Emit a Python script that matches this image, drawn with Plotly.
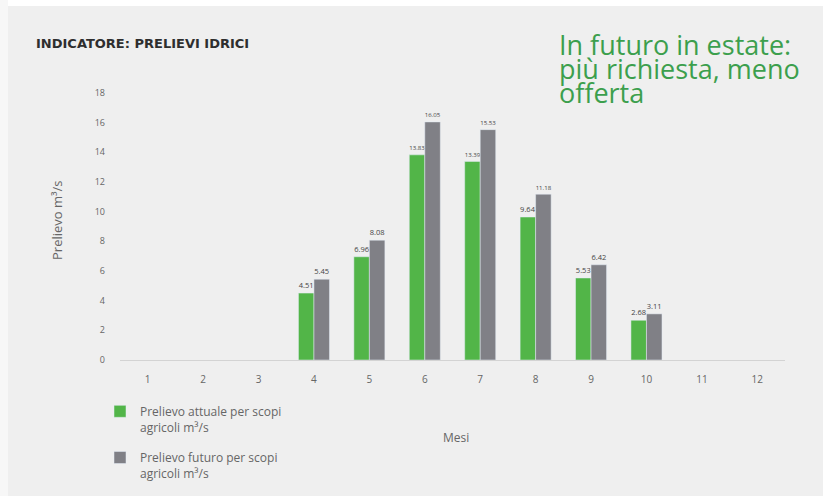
import plotly.graph_objects as go

months = [1, 2, 3, 4, 5, 6, 7, 8, 9, 10, 11, 12]
month_labels = ["1", "2", "3", "4", "5", "6", "7", "8", "9", "10", "11", "12"]
attuale = [None, None, None, 4.51, 6.96, 13.83, 13.39, 9.64, 5.53, 2.68, None, None]
futuro = [None, None, None, 5.45, 8.08, 16.05, 15.53, 11.18, 6.42, 3.11, None, None]
y_ticks = [0, 2, 4, 6, 8, 10, 12, 14, 16, 18]

name_attuale = "Prelievo attuale per scopi<br>agricoli m³/s"
name_futuro = "Prelievo futuro per scopi<br>agricoli m³/s"
headline_lines = ["In futuro in estate:", "più richiesta, meno", "offerta"]

GREEN = "#52b548"
GRAY = "#808086"
BG = "#efefef"
FONT = "Open Sans"

def fmt(v):
    return "" if v is None else f"{v:.2f}"

fig = go.Figure()
fig.add_trace(go.Bar(
    x=month_labels, y=attuale, name=name_attuale, marker_color=GREEN,
    legendgroup="a",
    text=[fmt(v) for v in attuale], textposition="outside",
    textfont=dict(size=7.5, color="#444444", family=FONT), cliponaxis=False,
))
fig.add_trace(go.Bar(
    x=month_labels, y=futuro, name=name_futuro, marker_color=GRAY,
    legendgroup="f",
    text=[fmt(v) for v in futuro], textposition="outside",
    textfont=dict(size=7.5, color="#444444", family=FONT), cliponaxis=False,
))

W, H = 823, 496
L, R, T, B = 120, 38, 93, 136
pw = W - L - R
ph = H - T - B

def px(x):
    return (x - L) / pw

def py(y):
    return (H - B - y) / ph

annotations = [
    dict(text="<b>INDICATORE: PRELIEVI IDRICI</b>", xref="paper", yref="paper",
         x=px(34), y=py(43), xanchor="left", yanchor="middle", showarrow=False,
         font=dict(size=13, color="#2e2e2e", family="DejaVu Sans")),
    dict(text="Prelievo m³/s", xref="paper", yref="paper", x=px(57), y=py(220),
         xanchor="center", yanchor="middle", showarrow=False, textangle=-90,
         font=dict(size=13, color="#666666", family=FONT)),
    dict(text="Mesi", xref="paper", yref="paper", x=px(456), y=py(437),
         xanchor="center", yanchor="middle", showarrow=False,
         font=dict(size=12, color="#666666", family=FONT)),
]
for i, line in enumerate(headline_lines):
    annotations.append(dict(
        text=line, xref="paper", yref="paper", x=px(557), y=py(44 + 24 * i),
        xanchor="left", yanchor="middle", showarrow=False, align="left",
        font=dict(size=27, color="#3c9f4d", family=FONT)))

fig.update_layout(
    width=W, height=H,
    margin=dict(l=L, r=R, t=T, b=B, autoexpand=False),
    paper_bgcolor=BG, plot_bgcolor=BG,
    barmode="group", bargap=0.44, bargroupgap=0,
    font=dict(family=FONT, color="#666666", size=9),
    showlegend=True,
    legend=dict(
        orientation="v", x=px(100), y=py(397), xanchor="left", yanchor="top",
        font=dict(size=12, color="#666666", family=FONT), valign="top",
        bgcolor="rgba(0,0,0,0)", traceorder="grouped", tracegroupgap=12, itemwidth=30,
    ),
    xaxis=dict(
        type="category", categoryorder="array", categoryarray=month_labels,
        showgrid=False, showline=True, linecolor="#d3d3d3", linewidth=1,
        ticks="", tickfont=dict(size=10, color="#666666"), ticklabelstandoff=10,
    ),
    yaxis=dict(
        range=[0, 18], tickvals=y_ticks, showgrid=False, zeroline=False,
        showline=False, ticks="", tickfont=dict(size=9, color="#666666"),
        ticklabelstandoff=14,
    ),
    annotations=annotations,
    shapes=[
        dict(type="rect", xref="paper", yref="paper", x0=px(0), x1=px(W), y0=py(0), y1=py(6),
             fillcolor="#ffffff", line=dict(width=0), layer="below"),
        dict(type="rect", xref="paper", yref="paper", x0=px(0), x1=px(8), y0=py(0), y1=py(H),
             fillcolor="#f7f7f7", line=dict(width=0), layer="below"),
    ],
)

fig.write_html(
    "out.html",
    config={"displayModeBar": False},
    post_script="document.body.style.margin='0';document.body.style.overflow='hidden';",
)
